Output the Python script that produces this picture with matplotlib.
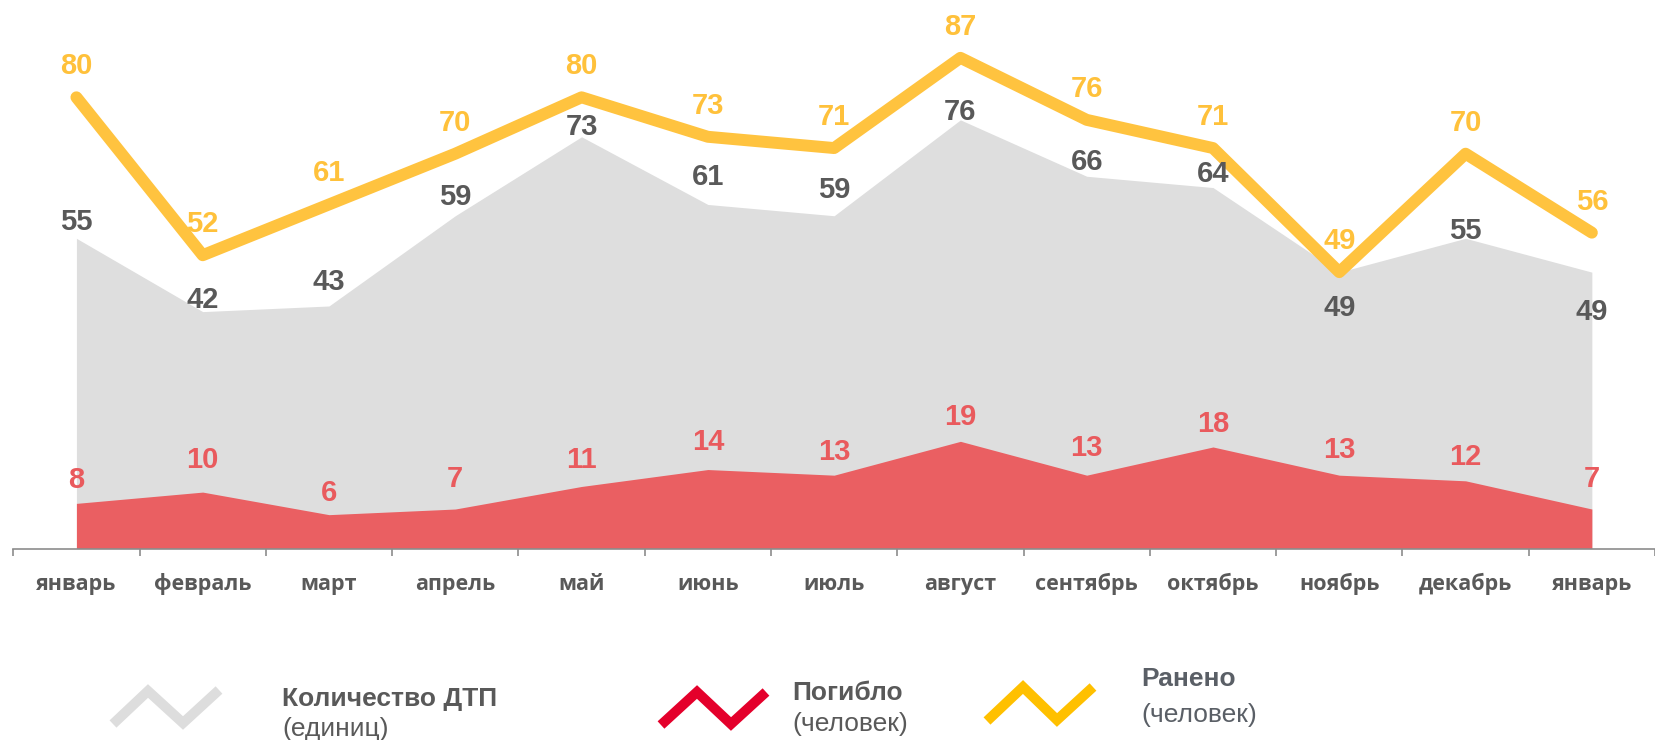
import matplotlib.pyplot as plt
import numpy as np

# data
months = ['январь', 'февраль', 'март', 'апрель', 'май', 'июнь', 'июль',
          'август', 'сентябрь', 'октябрь', 'ноябрь', 'декабрь', 'январь']
dtp = [55, 42, 43, 59, 73, 61, 59, 76, 66, 64, 49, 55, 49]
killed = [8, 10, 6, 7, 11, 14, 13, 19, 13, 18, 13, 12, 7]
injured = [80, 52, 61, 70, 80, 73, 71, 87, 76, 71, 49, 70, 56]

# label offsets (pixels, baseline relative to the point)
dtp_off = [8, 4, 16, 11, 2, 19, 18, 0, 6, 6, -44, -1, -48]
killed_off = [15, 24, 14, 22, 18, 20, 15, 16, 19, 15, 17, 16, 22]
injured_off = 23

grey_area = '#DEDEDE'
red_area = '#EA5F62'
yellow_line = '#FFC33F'
text_grey = '#595959'

W, H = 1655, 740
fig = plt.figure(figsize=(W / 100, H / 100), dpi=100)
ax = fig.add_axes([0, 1 - 548.5 / H, 1, 548.5 / H])

x = np.arange(len(months))
ax.fill_between(x, dtp, color=grey_area, lw=0, zorder=1)
ax.fill_between(x, killed, color=red_area, lw=0, zorder=2)
ax.plot(x, injured, color=yellow_line, lw=8.6, solid_capstyle='round',
        solid_joinstyle='round', zorder=3)

lbl = dict(family='Liberation Sans', weight='bold', fontsize=21,
           ha='center', va='baseline', textcoords='offset pixels', zorder=5)
for i in x:
    ax.annotate(str(dtp[i]), (i, dtp[i]), xytext=(0, dtp_off[i]),
                color=text_grey, **lbl)
    ax.annotate(str(killed[i]), (i, killed[i]), xytext=(0, killed_off[i]),
                color='#E95A5D', **lbl)
    ax.annotate(str(injured[i]), (i, injured[i]), xytext=(0, injured_off),
                color='#FFC13B', **lbl)

x0 = -77.3 / 127.75
ax.set_xlim(x0, x0 + W / 127.75)
ax.set_ylim(0, 548.5 / 5.64)
for s in ['top', 'left', 'right']:
    ax.spines[s].set_visible(False)
ax.spines['bottom'].set_color('#8C8C8C')
ax.spines['bottom'].set_linewidth(1.2)
ax.spines['bottom'].set_bounds(-0.5, 13)
ax.set_yticks([])
ax.set_xticks(x)
ax.set_xticklabels(months, family='Open Sans', weight='bold', fontsize=15.5,
                   color=text_grey)
for t in ax.get_xticklabels():
    t.set_va('baseline')
ax.set_xticks(np.arange(-0.5, 13, 1), minor=True)
ax.tick_params(axis='x', which='major', length=0, pad=30)
ax.tick_params(axis='x', which='minor', length=5, width=1.2, color='#8C8C8C')
ax.set_facecolor('none')

# legend
lax = fig.add_axes([0, 0, 1, 1])
lax.set_xlim(0, W)
lax.set_ylim(H, 0)
lax.axis('off')
icons = [
    ([113, 148, 183, 219], [724, 691, 723, 690], '#DDDDDD'),
    ([661, 697, 731, 766], [725, 692, 724, 692], '#E4002B'),
    ([987, 1023, 1057, 1093], [721, 687, 720, 687], '#FFC000'),
]
for xs, ys, c in icons:
    lax.plot(xs, ys, color=c, lw=7.2, solid_capstyle='butt',
             solid_joinstyle='miter')

bold = dict(family='Liberation Sans', weight='bold', fontsize=19,
            va='baseline', ha='left')
reg = dict(family='Liberation Sans', fontsize=19, va='baseline', ha='left')
lax.text(282, 706, 'Количество ДТП', color=text_grey, **bold)
lax.text(282, 736, '(единиц)', color=text_grey, **reg)
lax.text(792, 700, 'Погибло', color=text_grey, **bold)
lax.text(792, 731, '(человек)', color=text_grey, **reg)
lax.text(1141, 686, 'Ранено', color='#5A5F66', **bold)
lax.text(1141, 722, '(человек)', color='#5A5F66', **reg)

fig.savefig('out.png', dpi=100)
